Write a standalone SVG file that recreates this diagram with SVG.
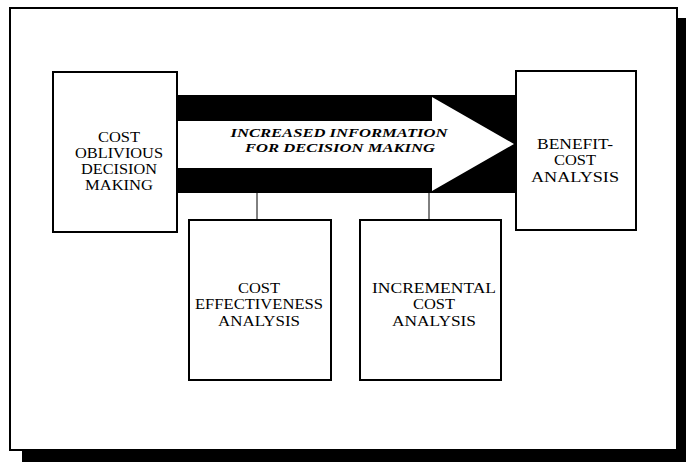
<svg xmlns="http://www.w3.org/2000/svg" width="686" height="462" viewBox="0 0 686 462">
  <style>
    .box { fill: #ffffff; stroke: #000000; stroke-width: 2; }
    .lbl { font-family: "Liberation Serif", "Times New Roman", serif; font-size: 14.5px; fill: #000000; text-anchor: middle; }
    .arrowlbl { font-family: "Liberation Serif", "Times New Roman", serif; font-size: 13.5px; font-weight: bold; font-style: italic; fill: #000000; text-anchor: middle; }
    .conn { stroke: #000000; stroke-width: 1; fill: none; }
  </style>
  <rect x="0" y="0" width="686" height="462" fill="#ffffff"/>
  <g id="frame">
    <rect x="22" y="18" width="664" height="444" fill="#000000"/>
    <rect x="10" y="8" width="667" height="442" fill="#ffffff" stroke="#000000" stroke-width="2"/>
  </g>
  <g id="connectors">
    <rect x="177" y="95" width="339" height="98" fill="#000000"/>
    <polygon points="177,121 432,121 432,97 514,144 432,191 432,168 177,168" fill="#ffffff"/>
    <text class="arrowlbl" x="339" y="137" textLength="217" lengthAdjust="spacingAndGlyphs">INCREASED INFORMATION</text>
    <text class="arrowlbl" x="340" y="152" textLength="190" lengthAdjust="spacingAndGlyphs">FOR DECISION MAKING</text>
    <line class="conn" x1="257" y1="193" x2="257" y2="220"/>
    <line class="conn" x1="429" y1="193" x2="429" y2="220"/>
  </g>
  <g id="cost-oblivious">
    <rect class="box" x="53" y="72" width="124" height="160"/>
    <text class="lbl" x="119" y="142" textLength="42" lengthAdjust="spacingAndGlyphs">COST</text>
    <text class="lbl" x="119" y="158" textLength="88" lengthAdjust="spacingAndGlyphs">OBLIVIOUS</text>
    <text class="lbl" x="119" y="174" textLength="76" lengthAdjust="spacingAndGlyphs">DECISION</text>
    <text class="lbl" x="119" y="190" textLength="68" lengthAdjust="spacingAndGlyphs">MAKING</text>
  </g>
  <g id="benefit-cost">
    <rect class="box" x="516" y="71" width="120" height="159"/>
    <text class="lbl" x="575" y="149" textLength="76" lengthAdjust="spacingAndGlyphs">BENEFIT-</text>
    <text class="lbl" x="575" y="165" textLength="42" lengthAdjust="spacingAndGlyphs">COST</text>
    <text class="lbl" x="575" y="182" textLength="88" lengthAdjust="spacingAndGlyphs">ANALYSIS</text>
  </g>
  <g id="cost-effectiveness">
    <rect class="box" x="189" y="220" width="142" height="160"/>
    <text class="lbl" x="259" y="293" textLength="42" lengthAdjust="spacingAndGlyphs">COST</text>
    <text class="lbl" x="259" y="309" textLength="128" lengthAdjust="spacingAndGlyphs">EFFECTIVENESS</text>
    <text class="lbl" x="259" y="326" textLength="82" lengthAdjust="spacingAndGlyphs">ANALYSIS</text>
  </g>
  <g id="incremental-cost">
    <rect class="box" x="360" y="220" width="141" height="160"/>
    <text class="lbl" x="434" y="293" textLength="124" lengthAdjust="spacingAndGlyphs">INCREMENTAL</text>
    <text class="lbl" x="434" y="309" textLength="42" lengthAdjust="spacingAndGlyphs">COST</text>
    <text class="lbl" x="434" y="326" textLength="84" lengthAdjust="spacingAndGlyphs">ANALYSIS</text>
  </g>
</svg>
